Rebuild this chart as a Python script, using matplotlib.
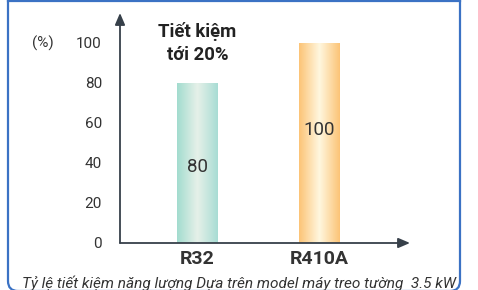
import numpy as np
import matplotlib
matplotlib.use('Agg')
import matplotlib.pyplot as plt
from matplotlib.patches import FancyBboxPatch
from matplotlib.colors import LinearSegmentedColormap
from matplotlib.transforms import IdentityTransform

plt.rcParams['font.family'] = ['Roboto', 'DejaVu Sans']

categories = ['R32', 'R410A']
values = [80, 100]
yticks = [0, 20, 40, 60, 80, 100]
note = 'Tiết kiệm\ntới 20%'
caption = 'Tỷ lệ tiết kiệm năng lượng Dựa trên model máy treo tường  3.5 kW'

W, H = 478, 290
fig = plt.figure(figsize=(W / 100, H / 100), dpi=100)
fig.patch.set_facecolor('white')

# blue frame in pixel units: square top, rounded bottom corners
frame_col = '#3b72c4'
frame = FancyBboxPatch((8, -1), 452, 340,
                       boxstyle='round,pad=0,rounding_size=10',
                       transform=IdentityTransform(), fill=False,
                       edgecolor=frame_col, linewidth=1.6)
fig.patches.append(frame)
fig.add_artist(plt.Line2D([8 / W, 460 / W], [(H - 0.8) / H] * 2,
                          transform=fig.transFigure, color=frame_col, lw=1.6))

# axes placed in pixels: x 120..410, y 13..243 (from top)
ax = fig.add_axes([120 / W, (H - 243) / H, 290 / W, 230 / H])
ax.set_facecolor('none')
x = np.arange(len(categories))
left = -0.635
right = 1.742
width = 0.336

bars = ax.bar(x, values, width=width, color='none', edgecolor='none')

grads = [
    ['#a3dccf', '#e6f1e9', '#a8dcd4'],
    ['#fcc477', '#fff7df', '#fcc477'],
]
for b, cols in zip(bars, grads):
    cmap = LinearSegmentedColormap.from_list('g', cols)
    g = np.linspace(0, 1, 100).reshape(1, -1)
    x0 = b.get_x()
    im = ax.imshow(g, cmap=cmap, aspect='auto',
                   extent=[x0, x0 + b.get_width(), 0, b.get_height()],
                   zorder=1)
    im.set_clip_path(b)

ax.set_xlim(left, right)
ax.set_ylim(0, 115)

for s in ax.spines.values():
    s.set_visible(False)

axis_col = '#37404a'
ax.annotate('', xy=(0, 1), xytext=(0, 0), xycoords='axes fraction',
            arrowprops=dict(arrowstyle='-|>,head_length=0.7,head_width=0.3',
                            color=axis_col, lw=1.3, shrinkA=0, shrinkB=0))
ax.annotate('', xy=(1, 0), xytext=(0, 0), xycoords='axes fraction',
            arrowprops=dict(arrowstyle='-|>,head_length=0.7,head_width=0.3',
                            color=axis_col, lw=1.3, shrinkA=0, shrinkB=0))

ax.set_yticks(yticks)
ax.set_yticklabels([str(t) for t in yticks], fontsize=11, color='#333333')
ax.set_xticks(x)
ax.set_xticklabels(categories, fontsize=14, fontweight='bold', color='#333333')
ax.tick_params(axis='y', length=0, pad=13)
ax.tick_params(axis='x', length=0, pad=5)

ax.text(-0.266, 100, '(%)', transform=ax.get_yaxis_transform(),
        ha='center', va='center', fontsize=11, color='#333333')

for xi, v, yl in zip(x, values, [38, 56.5]):
    ax.text(xi, yl, str(v), ha='center', va='center', fontsize=13.5,
            color='#333333', zorder=3)

ax.text(x[0], 100, note, ha='center', va='center', fontsize=13.3,
        fontweight='bold', color='#222222', linespacing=1.35)

fig.text(0.5, 7 / H, caption, ha='center', va='center', fontsize=11.1,
         style='italic', color='#333333')

fig.savefig('out.png', dpi=100)
